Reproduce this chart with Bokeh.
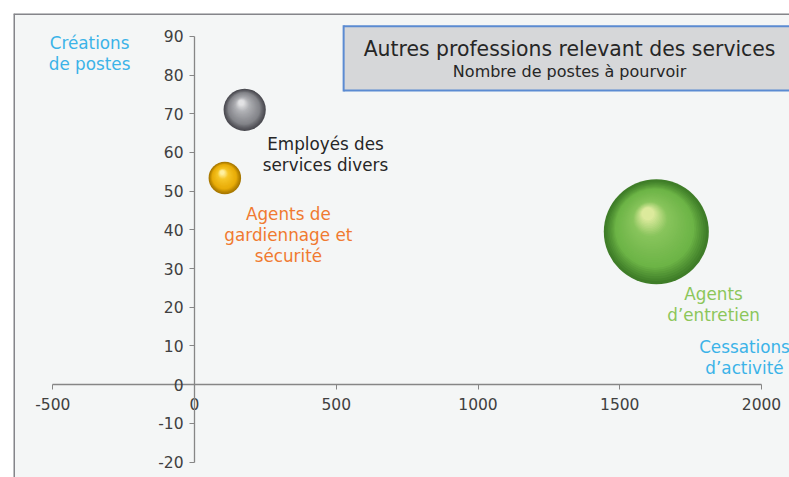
import math
from bokeh.plotting import figure
from bokeh.models import ColumnDataSource, FixedTicker, BoxAnnotation, Label, Span
from bokeh.core.properties import value
from bokeh.embed import file_html
from bokeh.resources import INLINE

# ---- data ----
names = ["Employés des services divers", "Agents de gardiennage et sécurité", "Agents d'entretien"]
cessations = [177, 107, 1629]          # x: cessations d'activité
creations = [71, 53.4, 39.5]           # y: créations de postes
postes = [270, 160, 1670]              # bubble size: nombre de postes à pourvoir
x_ticks = [-500, 0, 500, 1000, 1500, 2000]
y_ticks = [-20, -10, 0, 10, 20, 30, 40, 50, 60, 70, 80, 90]

# ---- styles ----
FONT = "DejaVu Sans"
sphere_cols = [
    ("#4c4c52", "#838489", "#b0b1b5", "#e2e2e4"),   # gray
    ("#a87800", "#e8ac08", "#f6c628", "#fff0a0"),   # yellow
    ("#3f7d28", "#6cb446", "#88c45c", "#dcea9c"),   # green
]
label_cols = ["#262626", "#f07a30", "#8cc65a"]
BLUE = "#3bb3e8"

W, H = 789, 477
XR = (-638.5, 2098.8)
YR = (-24.0, 95.9)
ML, MT = 13, 13
FW, FH = W - ML, H - MT
pxx = FW / (XR[1] - XR[0])
pxy = FH / (YR[1] - YR[0])

p = figure(width=W, height=H, x_range=XR, y_range=YR, output_backend="svg",
           toolbar_location=None, min_border_left=ML, min_border_top=MT,
           min_border_right=0, min_border_bottom=0)
p.background_fill_color = "#f4f6f6"
p.border_fill_color = "white"
p.outline_line_color = None
p.grid.visible = False

# frame border (top & left)
p.add_layout(Span(location=XR[0], dimension="height", line_color="#85858a", line_width=3))
p.add_layout(Span(location=YR[1], dimension="width", line_color="#85858a", line_width=3))

# axes crossing at origin
for ax, ticks, bnds in ((p.xaxis[0], x_ticks, (-500, 2000)), (p.yaxis[0], y_ticks, (-20, 90))):
    ax.fixed_location = 0
    ax.ticker = FixedTicker(ticks=ticks)
    ax.bounds = bnds
    ax.axis_line_color = "#868686"
    ax.axis_line_width = 1.3
    ax.major_tick_line_color = "#868686"
    ax.major_tick_in = 0
    ax.major_tick_out = 5
    ax.minor_tick_line_color = None
    ax.major_label_text_font = FONT
    ax.major_label_text_font_size = "15.5px"
    ax.major_label_text_color = "#404040"
    ax.major_label_overrides = {t: str(t) for t in ticks}
p.xaxis[0].major_label_standoff = 8
p.yaxis[0].major_label_standoff = 6

# title box (fill + top/bottom/left borders, open on the right like the reference)
BL, BT, BB = 526, 92.6, 76.0
bw_x, bw_y = 2 / pxx, 2 / pxy
p.add_layout(BoxAnnotation(left=BL, right=None, top=BT, bottom=BB,
                           fill_color="#d6d7d9", fill_alpha=1.0, line_alpha=0))
for kw in (dict(left=BL, right=None, top=BT + bw_y / 2, bottom=BT - bw_y / 2),
           dict(left=BL, right=None, top=BB + bw_y / 2, bottom=BB - bw_y / 2),
           dict(left=BL - bw_x / 2, right=BL + bw_x / 2, top=BT + bw_y / 2, bottom=BB - bw_y / 2)):
    p.add_layout(BoxAnnotation(fill_color="#5b8bd2", fill_alpha=1.0, line_alpha=0, **kw))
p.add_layout(Label(x=1323, y=86.8, text="Autres professions relevant des services",
                   text_font=FONT, text_font_size="20.4px", text_color="#262626",
                   text_align="center", text_baseline="middle"))
p.add_layout(Label(x=1323, y=80.9, text="Nombre de postes à pourvoir",
                   text_font=FONT, text_font_size="16px", text_color="#262626",
                   text_align="center", text_baseline="middle"))

# shaded spheres (layers of circles)
SCALE = 1.285
N = 36
lx, ly, ls, lc = [], [], [], []
def lerp(c1, c2, t):
    a = [int(c1[i:i+2], 16) for i in (1, 3, 5)]
    b = [int(c2[i:i+2], 16) for i in (1, 3, 5)]
    return "#%02x%02x%02x" % tuple(round(a[k] + (b[k] - a[k]) * t) for k in range(3))
def grad(cols, t):
    stops = [0.0, 0.2, 0.7, 1.0]
    for k in range(3):
        if t <= stops[k + 1]:
            return lerp(cols[k], cols[k + 1], (t - stops[k]) / (stops[k + 1] - stops[k]))
    return cols[-1]
for xi, yi, si, cols in zip(cessations, creations, postes, sphere_cols):
    r = SCALE * math.sqrt(si)
    for i in range(N):
        t = i / (N - 1)
        rr = r * (1 - 0.88 * t ** 0.8)
        ox = -0.16 * r * t
        oy = 0.34 * r * t
        lx.append(xi + ox / pxx)
        ly.append(yi + oy / pxy)
        ls.append(2 * rr)
        lc.append(grad(cols, t))
p.scatter(x="x", y="y", size="s", fill_color="c", line_color=None,
          source=ColumnDataSource(dict(x=lx, y=ly, s=ls, c=lc)))

# texts
blocks = [
    (["Employés des", "services divers"], 462, 62.3, label_cols[0]),
    (["Agents de", "gardiennage et", "sécurité"], 331, 44.2, label_cols[1]),
    (["Agents", "d’entretien"], 1831, 23.5, label_cols[2]),
    (["Créations", "de postes"], -370, 88.4, BLUE),
    (["Cessations", "d’activité"], 1940, 9.6, BLUE),
]
tx, ty, tt, tc, to = [], [], [], [], []
for lines, bx, by, col in blocks:
    for i, ln in enumerate(lines):
        tx.append(bx); ty.append(by); tt.append(ln); tc.append(col); to.append(21 * i)
p.text(x="x", y="y", text="t", text_color="c", y_offset="o",
       source=ColumnDataSource(dict(x=tx, y=ty, t=tt, c=tc, o=to)),
       text_font=value(FONT), text_font_size=value("16.8px"),
       text_align="center", text_baseline="middle")

open("out.html", "w").write(file_html(p, INLINE))
